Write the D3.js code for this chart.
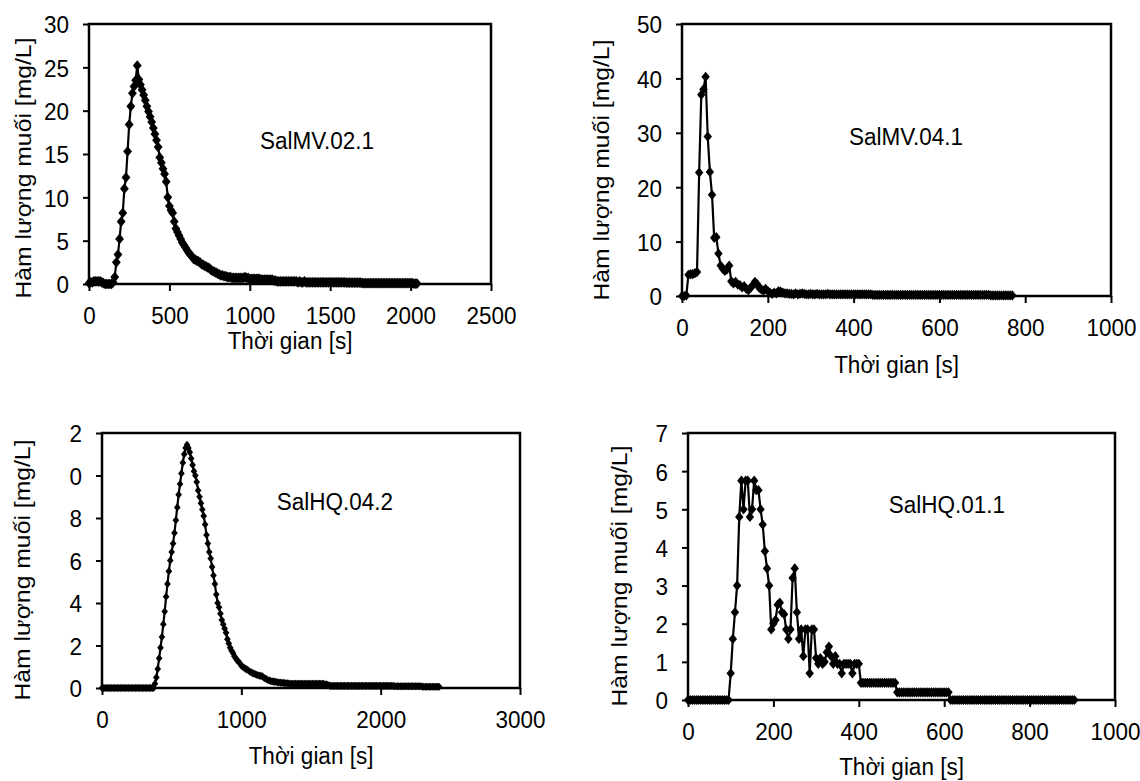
<!DOCTYPE html>
<html>
<head>
<meta charset="utf-8">
<script src="https://cdn.jsdelivr.net/npm/d3@7"></script>
<style>
  body { margin: 0; background: #fff; }
  svg text { font-family: "Liberation Sans", Arial, sans-serif; fill: #000; }
</style>
</head>
<body>
<svg id="chart" width="1140" height="781"></svg>
<script>
// Salt tracer curves: concentration [mg/L] sampled every `step` seconds from t = 0

// SalMV.02.1, every 10 s
var mv021Step = 10;
var mv021Values = [
  0.1, 0.2, 0.2, 0.3, 0.3, 0.3, 0.3, 0.3, 0.2, 0.1,
  0, 0, 0, 0, 0, 0.2, 0.8, 2.5, 3.4, 5.2,
  7.2, 8.2, 11.0, 12.3, 15.3, 18.4, 20.5, 22.0, 22.8, 23.5,
  25.2, 23.6, 23.0, 22.4, 21.8, 21.2, 20.5, 19.9, 19.3, 18.7,
  18.0, 17.3, 16.6, 15.8, 14.6, 14.0, 13.3, 12.7, 11.8, 10.0,
  9.0, 8.5, 8.2, 7.2, 6.4, 6.0, 5.6, 5.2, 4.8, 4.5,
  4.2, 3.9, 3.6, 3.4, 3.2, 2.9, 2.8, 2.7, 2.6, 2.5,
  2.3, 2.2, 2.1, 2.0, 1.9, 1.8, 1.6, 1.5, 1.4, 1.3,
  1.2, 1.1, 1.0, 1.0, 0.9, 0.9, 0.8, 0.8, 0.8, 0.7,
  0.7, 0.7, 0.7, 0.7, 0.7, 0.7, 0.7, 0.8, 0.7, 0.7,
  0.6, 0.6, 0.6, 0.6, 0.6, 0.6, 0.6, 0.5, 0.5, 0.5,
  0.5, 0.5, 0.5, 0.5, 0.5, 0.4, 0.4, 0.3, 0.3, 0.3,
  0.3, 0.3, 0.3, 0.3, 0.3, 0.3, 0.3, 0.3, 0.3, 0.3,
  0.2, 0.3, 0.2, 0.2, 0.3, 0.2, 0.2, 0.2, 0.2, 0.2,
  0.2, 0.2, 0.2, 0.2, 0.2, 0.2, 0.2, 0.2, 0.2, 0.2,
  0.2, 0.2, 0.2, 0.2, 0.2, 0.2, 0.2, 0.2, 0.2, 0.2,
  0.15, 0.15, 0.15, 0.15, 0.15, 0.15, 0.15, 0.15, 0.15, 0.15,
  0.1, 0.1, 0.1, 0.1, 0.1, 0.1, 0.1, 0.1, 0.1, 0.1,
  0.1, 0.1, 0.1, 0.1, 0.1, 0.1, 0.1, 0.1, 0.1, 0.1,
  0.1, 0.1, 0.1, 0.1, 0.1, 0.1, 0.1, 0.1, 0.1, 0.1,
  0.1, 0.1, 0.05, 0.05, 0.05
];

// SalMV.04.1, every 5 s
var mv041Step = 5;
var mv041Values = [
  0, 0, 0.1, 3.9, 4.0, 4.0, 4.2, 4.4, 22.7, 37.0,
  38.0, 40.3, 29.3, 22.8, 18.6, 10.7, 10.8, 7.8, 5.6, 5.0,
  4.6, 4.9, 5.6, 2.7, 2.3, 2.6, 2.1, 2.0, 1.6, 1.8,
  1.3, 1.1, 1.5, 2.0, 2.6, 2.2, 1.5, 1.2, 1.0, 1.3,
  0.9, 0.6, 0.4, 0.6, 0.5, 0.9, 0.8, 0.6, 0.5, 0.5,
  0.4, 0.4, 0.3, 0.5, 0.3, 0.4, 0.5, 0.4, 0.3, 0.3,
  0.4, 0.3, 0.3, 0.4, 0.3, 0.3, 0.3, 0.3, 0.4, 0.3,
  0.3, 0.3, 0.3, 0.3, 0.3, 0.3, 0.3, 0.3, 0.3, 0.3,
  0.3, 0.3, 0.3, 0.3, 0.3, 0.3, 0.3, 0.3, 0.3, 0.2,
  0.2, 0.2, 0.2, 0.2, 0.2, 0.2, 0.2, 0.2, 0.2, 0.2,
  0.2, 0.2, 0.2, 0.2, 0.2, 0.2, 0.2, 0.2, 0.2, 0.2,
  0.2, 0.2, 0.2, 0.2, 0.2, 0.2, 0.2, 0.2, 0.2, 0.2,
  0.2, 0.2, 0.2, 0.2, 0.2, 0.2, 0.2, 0.2, 0.2, 0.2,
  0.2, 0.2, 0.2, 0.2, 0.2, 0.2, 0.2, 0.2, 0.2, 0.2,
  0.2, 0.2, 0.2, 0.2, 0.1, 0.1, 0.1, 0.1, 0.1, 0.1,
  0.1, 0.1, 0.1, 0.1, 0.1
];

// SalHQ.04.2, every 10 s
var hq042Step = 10;
var hq042Values = [
  0, 0, 0, 0, 0, 0, 0, 0, 0, 0,
  0, 0, 0, 0, 0, 0, 0, 0, 0, 0,
  0, 0, 0, 0, 0, 0, 0, 0, 0, 0,
  0, 0, 0, 0, 0, 0, 0, 0, 0.2, 0.5,
  0.9, 1.4, 1.9, 2.4, 3.0, 3.6, 4.3, 4.9, 5.5, 6.0,
  6.4, 6.8, 7.3, 7.9, 8.5, 9.1, 9.6, 10.1, 10.6, 11.0,
  11.3, 11.45, 11.3, 11.1, 10.8, 10.5, 10.2, 10.0, 9.7, 9.3,
  9.0, 8.7, 8.4, 8.1, 7.7, 7.2, 6.8, 6.4, 6.1, 5.7,
  5.3, 4.9, 4.4, 4.0, 3.8, 3.5, 3.2, 3.0, 2.8, 2.6,
  2.3, 2.1, 1.9, 1.75, 1.65, 1.5, 1.4, 1.3, 1.25, 1.15,
  1.05, 1.0, 0.95, 0.9, 0.88, 0.82, 0.78, 0.74, 0.7, 0.68,
  0.65, 0.62, 0.6, 0.58, 0.57, 0.55, 0.5, 0.45, 0.42, 0.38,
  0.35, 0.33, 0.32, 0.3, 0.3, 0.28, 0.27, 0.26, 0.25, 0.25,
  0.24, 0.23, 0.22, 0.22, 0.21, 0.2, 0.2, 0.2, 0.2, 0.2,
  0.2, 0.2, 0.2, 0.2, 0.2, 0.2, 0.2, 0.2, 0.2, 0.2,
  0.2, 0.2, 0.2, 0.2, 0.2, 0.2, 0.2, 0.2, 0.2, 0.2,
  0.18, 0.16, 0.15, 0.12, 0.1, 0.1, 0.1, 0.1, 0.1, 0.1,
  0.1, 0.1, 0.1, 0.1, 0.1, 0.1, 0.1, 0.1, 0.1, 0.1,
  0.1, 0.1, 0.1, 0.1, 0.1, 0.1, 0.1, 0.1, 0.1, 0.1,
  0.1, 0.1, 0.1, 0.1, 0.1, 0.1, 0.1, 0.1, 0.1, 0.1,
  0.1, 0.1, 0.1, 0.1, 0.1, 0.1, 0.1, 0.1, 0.1, 0.1,
  0.08, 0.08, 0.08, 0.08, 0.08, 0.08, 0.08, 0.08, 0.08, 0.08,
  0.08, 0.08, 0.08, 0.08, 0.08, 0.08, 0.08, 0.08, 0.08, 0.08,
  0.06, 0.06, 0.06, 0.06, 0.06, 0.06, 0.06, 0.06, 0.06, 0.06,
  0.06, 0.06, 0.06
];

// SalHQ.01.1, every 5 s
var hq011Step = 5;
var hq011Values = [
  0, 0, 0, 0, 0, 0, 0, 0, 0, 0,
  0, 0, 0, 0, 0, 0, 0, 0, 0, 0,
  0.7, 1.6, 2.3, 3.0, 4.8, 5.75, 5.0, 5.75, 5.75, 4.8,
  5.0, 5.75, 5.5, 5.5, 5.0, 4.6, 3.9, 3.45, 3.0, 1.85,
  2.0, 2.1, 2.5, 2.55, 2.3, 2.25, 1.85, 1.6, 1.85, 3.2,
  3.45, 2.3, 1.6, 1.85, 1.15, 1.85, 1.85, 0.7, 1.85, 1.85,
  1.1, 0.95, 1.1, 0.95, 1.0, 1.25, 1.4, 1.15, 0.95, 1.15,
  0.95, 0.95, 0.7, 0.95, 0.95, 0.95, 0.95, 0.7, 0.95, 0.95,
  0.95, 0.45, 0.45, 0.45, 0.45, 0.45, 0.45, 0.45, 0.45, 0.45,
  0.45, 0.45, 0.45, 0.45, 0.45, 0.45, 0.45, 0.45, 0.2, 0.2,
  0.2, 0.2, 0.2, 0.2, 0.2, 0.2, 0.2, 0.2, 0.2, 0.2,
  0.2, 0.2, 0.2, 0.2, 0.2, 0.2, 0.2, 0.2, 0.2, 0.2,
  0.2, 0.2, 0.2, 0, 0, 0, 0, 0, 0, 0,
  0, 0, 0, 0, 0, 0, 0, 0, 0, 0,
  0, 0, 0, 0, 0, 0, 0, 0, 0, 0,
  0, 0, 0, 0, 0, 0, 0, 0, 0, 0,
  0, 0, 0, 0, 0, 0, 0, 0, 0, 0,
  0, 0, 0, 0, 0, 0, 0, 0, 0, 0,
  0, 0
];

// axis ticks
var xTicksMV021 = [0, 500, 1000, 1500, 2000, 2500];
var yTicksMV021 = [0, 5, 10, 15, 20, 25, 30];
var xTicksMV041 = [0, 200, 400, 600, 800, 1000];
var yTicksMV041 = [0, 10, 20, 30, 40, 50];
var xTicksHQ042 = [0, 1000, 2000, 3000];
var yTicksHQ042 = [0, 2, 4, 6, 8, 10, 12];
// the top two labels are cut off in the original figure
var yLabelsHQ042 = ["0", "2", "4", "6", "8", "0", "2"];
var xTicksHQ011 = [0, 200, 400, 600, 800, 1000];
var yTicksHQ011 = [0, 1, 2, 3, 4, 5, 6, 7];

var xTitle = "Thời gian [s]";
var yTitle = "Hàm lượng muối [mg/L]";

// the source figure is slightly stretched vertically
var fontSize = 22.5,
    stretch = 1.1;

var panels = [
  { name: "SalMV.02.1", step: mv021Step, values: mv021Values,
    xTicks: xTicksMV021, yTicks: yTicksMV021, yLabels: null,
    left: 89, right: 491, top: 24, bottom: 284,
    yTitleX: 23, yTitleY: 168, xTitleY: 349, labelX: 317, labelY: 140, r: 4.4 },
  { name: "SalMV.04.1", step: mv041Step, values: mv041Values,
    xTicks: xTicksMV041, yTicks: yTicksMV041, yLabels: null,
    left: 682, right: 1111, top: 24, bottom: 296,
    yTitleX: 601, yTitleY: 170, xTitleY: 373, labelX: 906, labelY: 136, r: 4.2 },
  { name: "SalHQ.04.2", step: hq042Step, values: hq042Values,
    xTicks: xTicksHQ042, yTicks: yTicksHQ042, yLabels: yLabelsHQ042,
    left: 102, right: 520, top: 433, bottom: 688,
    yTitleX: 22, yTitleY: 570, xTitleY: 764, labelX: 335, labelY: 501, r: 3.3 },
  { name: "SalHQ.01.1", step: hq011Step, values: hq011Values,
    xTicks: xTicksHQ011, yTicks: yTicksHQ011, yLabels: null,
    left: 688, right: 1115, top: 433, bottom: 700,
    yTitleX: 619, yTitleY: 576, xTitleY: 775, labelX: 947, labelY: 504, r: 4.2 }
];

var svg = d3.select('#chart');
svg.append('rect').attr('width', 1140).attr('height', 781).attr('fill', '#fff');

function diamond(r) {
  var ry = r * 1.22;
  return 'M0,' + (-ry) + 'L' + r + ',0L0,' + ry + 'L' + (-r) + ',0Z';
}

panels.forEach(function(p) {
  var xMax = p.xTicks[p.xTicks.length - 1],
      yMax = p.yTicks[p.yTicks.length - 1];
  var x = d3.scaleLinear().domain([0, xMax]).range([p.left, p.right]);
  var y = d3.scaleLinear().domain([0, yMax]).range([p.bottom, p.top]);

  var points = p.values.map(function(v, i) {
    return { t: i * p.step, v: v };
  });

  var g = svg.append('g');

  // axes, ticks outside
  var yAxis = d3.axisLeft(y).tickValues(p.yTicks).tickSizeInner(6).tickSizeOuter(0)
    .tickFormat(p.yLabels ? function(d, i) { return p.yLabels[i]; } : d3.format('d'));
  g.append('g')
    .attr('transform', 'translate(' + p.left + ',0)')
    .call(yAxis)
    .call(function(a) {
      a.select('.domain').remove();
      a.selectAll('line').attr('stroke', '#000').attr('stroke-width', 2);
      a.selectAll('text')
        .attr('font-size', fontSize).attr('font-family', null)
        .attr('x', -20).attr('dy', '0.36em')
        .attr('transform', 'scale(1,' + stretch + ')');
    });

  g.append('g')
    .attr('transform', 'translate(0,' + p.bottom + ')')
    .call(d3.axisBottom(x).tickValues(p.xTicks).tickSizeInner(7).tickSizeOuter(0).tickFormat(d3.format('d')))
    .call(function(a) {
      a.select('.domain').remove();
      a.selectAll('line').attr('stroke', '#000').attr('stroke-width', 2);
      a.selectAll('text')
        .attr('font-size', fontSize).attr('font-family', null)
        .attr('y', 40 / stretch).attr('dy', 0)
        .attr('transform', 'scale(1,' + stretch + ')');
    });

  // plot box
  g.append('rect')
    .attr('x', p.left).attr('y', p.top)
    .attr('width', p.right - p.left).attr('height', p.bottom - p.top)
    .attr('fill', 'none').attr('stroke', '#000').attr('stroke-width', 2.5);

  var line = d3.line()
    .x(function(d) { return x(d.t); })
    .y(function(d) { return y(d.v); });

  g.append('path')
    .datum(points)
    .attr('d', line)
    .attr('fill', 'none')
    .attr('stroke', '#000')
    .attr('stroke-width', 2.2);

  g.selectAll('path.marker')
    .data(points)
    .enter()
    .append('path')
      .attr('class', 'marker')
      .attr('d', diamond(p.r))
      .attr('transform', function(d) { return 'translate(' + x(d.t) + ',' + y(d.v) + ')'; })
      .attr('fill', '#000');

  g.append('text')
    .attr('transform', 'translate(' + p.labelX + ',' + p.labelY + ') scale(1,' + stretch + ')')
    .attr('text-anchor', 'middle').attr('dy', '0.36em')
    .attr('font-size', fontSize)
    .text(p.name);

  g.append('text')
    .attr('transform', 'translate(' + (p.left + p.right) / 2 + ',' + p.xTitleY + ') scale(1,' + stretch + ')')
    .attr('text-anchor', 'middle')
    .attr('font-size', fontSize)
    .text(xTitle);

  g.append('text')
    .attr('transform', 'translate(' + p.yTitleX + ',' + p.yTitleY + ') scale(1,' + stretch + ') rotate(-90)')
    .attr('text-anchor', 'middle').attr('dy', '0.36em')
    .attr('font-size', fontSize)
    .text(yTitle);
});
</script>
</body>
</html>
